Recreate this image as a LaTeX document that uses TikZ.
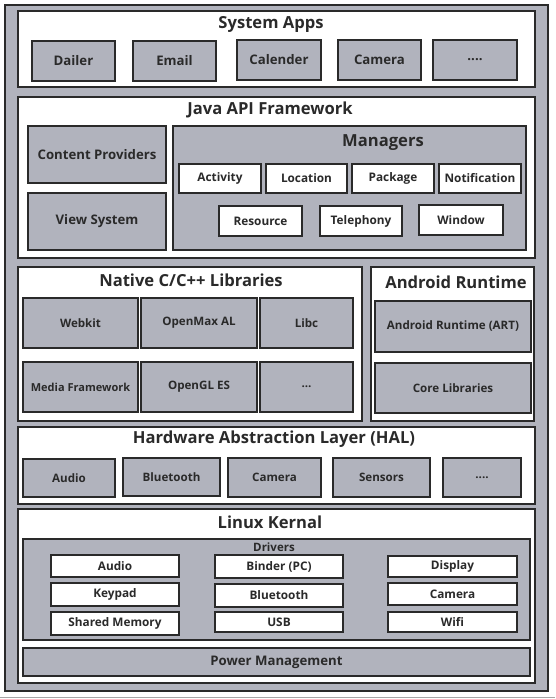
\documentclass[tikz,border=0pt]{standalone}
\usepackage{fontspec}
\setmainfont{Open Sans}
\definecolor{gfill}{HTML}{B1B3BD}
\definecolor{bline}{HTML}{2A2A2A}
\newcommand{\bx}[7]{\node[#6, anchor=north west, minimum width={(#4-#2)*1pt}, minimum height={(#5-#3)*1pt}] (#1) at (#2,#3) {#7};}
\newcommand{\fs}[1]{\fontsize{#1}{#1}\selectfont}
\begin{document}
\begin{tikzpicture}[x=1pt,y=-1pt,
  every node/.style={inner sep=0pt, outer sep=0pt, font=\bfseries, text=bline},
  outerbox/.style={draw=bline, line width=1.4pt, fill=gfill},
  layer/.style={draw=bline, line width=1.4pt, fill=white},
  gbox/.style={draw=bline, line width=1.4pt, fill=gfill, font=\bfseries\fs{13.2}},
  sbox/.style={draw=bline, line width=1.4pt, fill=gfill, font=\bfseries\fs{11.6}},
  wbox/.style={draw=bline, line width=1.4pt, fill=white, font=\bfseries\fs{11.8}},
  ttl/.style={font=\bfseries\fs{16.6}},
  subttl/.style={font=\bfseries\fs{11.5}}]
\useasboundingbox (0,0) rectangle (555,699);
\fill[white] (0,0) rectangle (555,699);
\draw[gray!70, line width=0.8pt] (0,697) -- (555,697);
\bx{frame}{5}{5}{548}{691}{outerbox}{}
% System Apps
\bx{sysapps}{18}{11}{535}{87}{layer}{}
\node[ttl] (tsys) at (271,24) {System Apps};
\bx{dailer}{32}{41}{115}{81}{gbox}{Dailer}
\bx{email}{133}{41}{216}{81}{gbox}{Email}
\bx{calender}{237}{40}{321}{80}{gbox}{Calender}
\bx{camera}{338}{40}{421}{80}{gbox}{Camera}
\bx{more1}{433}{40}{517}{80}{gbox}{....}
% Java API Framework
\bx{java}{18}{97}{535}{258}{layer}{}
\node[ttl] (tjava) at (270,110) {Java API Framework};
\bx{content}{28}{126}{166}{183}{gbox}{Content Providers}
\bx{view}{28}{193}{166}{250}{gbox}{View System}
\bx{managers}{173}{126}{526}{250}{outerbox}{}
\node[ttl] (tman) at (383,143) {Managers};
\bx{activity}{179}{164}{261}{193}{wbox}{Activity}
\bx{location}{266}{164}{347}{193}{wbox}{Location}
\bx{package}{352}{164}{434}{193}{wbox}{Package}
\bx{notification}{439}{164}{521}{193}{wbox}{Notification}
\bx{resource}{219}{206}{302}{236}{wbox}{Resource}
\bx{telephony}{320}{206}{402}{236}{wbox}{Telephony}
\bx{window}{419}{205}{503}{235}{wbox}{Window}
% Native libs
\bx{native}{18}{267}{362}{421}{layer}{}
\node[ttl] (tnat) at (191,280) {Native C/C++ Libraries};
\bx{webkit}{23}{298}{138}{348}{sbox}{Webkit}
\bx{openmax}{141}{298}{257}{348}{sbox}{OpenMax AL}
\bx{libc}{260}{298}{353}{348}{sbox}{Libc}
\bx{media}{23}{362}{138}{412}{sbox, font=\bfseries\fs{11}}{Media Framework}
\bx{opengl}{141}{362}{257}{412}{sbox}{OpenGL ES}
\bx{more2}{260}{362}{353}{412}{sbox}{...}
% Android Runtime
\bx{runtime}{371}{267}{534}{421}{layer}{}
\node[ttl] (trt) at (456,282) {Android Runtime};
\bx{art}{375}{301}{531}{352}{sbox}{Android Runtime (ART)}
\bx{core}{375}{363}{531}{413}{sbox}{Core Libraries}
% HAL
\bx{hal}{18}{427}{535}{504}{layer}{}
\node[ttl] (thal) at (274,439) {Hardware Abstraction Layer (HAL)};
\bx{haudio}{23}{459}{115}{497}{sbox}{Audio}
\bx{hbt}{123}{458}{220}{496}{sbox}{Bluetooth}
\bx{hcam}{228}{458}{321}{497}{sbox}{Camera}
\bx{hsens}{333}{458}{430}{497}{sbox}{Sensors}
\bx{hmore}{443}{458}{521}{497}{sbox}{....}
% Linux Kernel
\bx{linux}{18}{509}{535}{683}{layer}{}
\node[ttl] (tlin) at (270,522) {Linux Kernal};
\bx{drivers}{23}{539}{530}{640}{outerbox}{}
\node[subttl] (tdrv) at (274,547) {Drivers};
\bx{daudio}{51}{555}{179}{577}{wbox}{Audio}
\bx{dkey}{51}{583}{179}{606}{wbox}{Keypad}
\bx{dshm}{51}{612}{179}{635}{wbox}{Shared Memory}
\bx{dbinder}{215}{555}{343}{578}{wbox}{Binder (PC)}
\bx{dbt}{215}{584}{343}{607}{wbox}{Bluetooth}
\bx{dusb}{215}{612}{343}{632}{wbox}{USB}
\bx{ddisp}{388}{556}{517}{577}{wbox}{Display}
\bx{dcam}{388}{583}{517}{605}{wbox}{Camera}
\bx{dwifi}{388}{612}{517}{632}{wbox}{Wifi}
\bx{power}{23}{648}{530}{676}{gbox}{Power Management}
\end{tikzpicture}
\end{document}
